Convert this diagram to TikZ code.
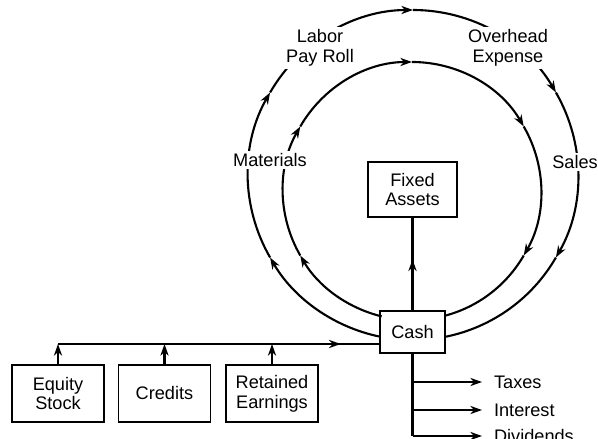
\documentclass[tikz,border=0pt]{standalone}
\usepackage{fontspec}
\setmainfont{Liberation Sans}
\usetikzlibrary{arrows.meta,decorations.markings}
\tikzset{
  box/.style={draw,line width=1.4pt,align=center,inner sep=0pt},
  tip/.style={-{Stealth[length=10pt,width=7pt]}},
  midtip/.style={postaction={decorate},decoration={markings,mark=at position #1 with {\arrow{Stealth[length=10pt,width=7pt]}}}},
  lab/.style={fill=white,inner sep=2pt,align=center},
}

\begin{document}
\begin{tikzpicture}[x=0.3mm,y=0.3mm,line width=1.8pt,font=\fontsize{15.5pt}{17pt}\selectfont]
  \useasboundingbox (0,0) rectangle (598,438);
  \coordinate (outer) at (413,263); \coordinate (inner) at (412,247);
  % boxes
  \node[box,minimum width=19.5mm,minimum height=12.6mm] (cash) at (412.5,106) {Cash};
  \node[box,minimum width=26.7mm,minimum height=16.5mm] (fixed) at (412.5,248.5) {Fixed\\Assets};
  \foreach \name/\cx/\txt in {equity/58/{Equity\\Stock},credits/164.5/{Credits},retained/272/{Retained\\Earnings}}
    \node[box,minimum width=27.6mm,minimum height=17.1mm] (\name) at (\cx,44.5) {\txt};
  % the two cycles
  \foreach \c/\r/\s/\e in {outer/165/258.5/-78.8,inner/129/256.4/-75.2}{
    \foreach \a/\b in {\s/210,210/150,150/90,90/30,30/-30}
      \draw[tip] (\c) ++(\a:\r) arc[start angle=\a,end angle=\b,radius=\r];
    \draw (\c) ++(-30:\r) arc[start angle=-30,end angle=\e,radius=\r];
  }
  \node[lab] (materials) at (270,278) {Materials};
  \node[lab] (labor) at (320,390) {Labor\\Pay Roll};
  \node[lab] (overhead) at (508,390) {Overhead\\Expense};
  \node[lab] (sales) at (575,276) {Sales};
  % sources
  \coordinate (bus) at (0,94);
  \foreach \n in {equity,credits,retained} \draw[tip] (\n.north) -- (\n.north |- bus);
  \draw[midtip=0.88] (equity.north |- bus) -- (cash.west |- bus);
  \draw[midtip=0.55] (cash.north) -- (fixed.south);
  % outflows
  \node[anchor=west,inner sep=0pt] (taxes) at (493,56) {Taxes};
  \node[anchor=west,inner sep=0pt] (interest) at (493,28) {Interest};
  \node[anchor=west,inner sep=0pt] (dividends) at (493,2) {Dividends};
  \draw[line width=2.4pt] (cash.south) -- (cash.south |- dividends);
  \foreach \n in {taxes,interest,dividends} \draw[tip,shorten >=3.3mm] (cash.south |- \n) -- (\n.west);
\end{tikzpicture}
\end{document}
